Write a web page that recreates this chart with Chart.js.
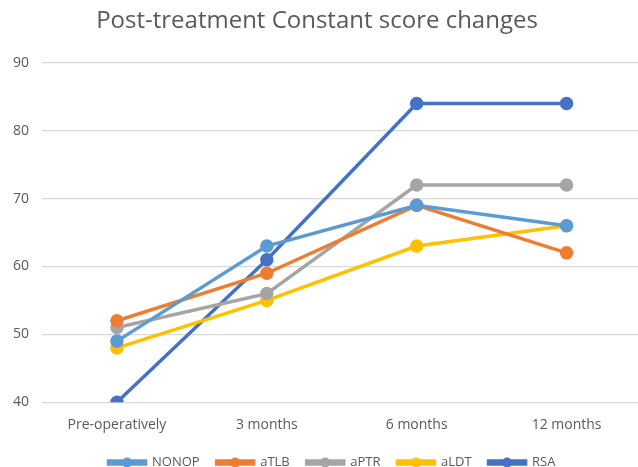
<!DOCTYPE html>
<html>
<head>
<meta charset="utf-8">
<script src="https://cdn.jsdelivr.net/npm/chart.js@4"></script>
<style>
  html, body { margin: 0; padding: 0; background: #fff; overflow: hidden; }
  #wrap { width: 650px; height: 467px; }
</style>
</head>
<body>
<div id="wrap"><canvas id="scoreChart"></canvas></div>
<script>
// categories and series
const timepoints = ['Pre-operatively', '3 months', '6 months', '12 months'];
const nonop = [49, 63, 69, 66];
const atlb = [52, 59, 69, 62];
const aptr = [51, 56, 72, 72];
const aldt = [48, 55, 63, 66];
const rsa = [40, 61, 84, 84];

const FONT = '"Open Sans", "Liberation Sans", sans-serif';
const TEXT = '#595959';

function series(label, data, color) {
  return {
    label: label,
    data: data,
    borderColor: color,
    backgroundColor: color,
    borderWidth: 3.5,
    pointRadius: 5,
    pointHoverRadius: 5,
    pointBackgroundColor: color,
    pointBorderColor: color,
    tension: 0
  };
}

// canvas is a bit wider than the window so the plot runs to the edge;
// nudge title and legend back to where they sit in the original
const recentre = {
  id: 'recentre',
  afterLayout(chart) {
    if (chart.titleBlock) {
      chart.titleBlock.left -= 8;
      chart.titleBlock.right -= 8;
    }
    if (chart.legend) {
      chart.legend.left += 7;
      chart.legend.right += 7;
    }
  }
};

// draw a dot on the middle of each legend line (Excel-style line+marker legend)
const legendDots = {
  id: 'legendDots',
  afterDraw(chart) {
    const legend = chart.legend;
    if (!legend || !legend.legendHitBoxes) return;
    const ctx = chart.ctx;
    legend.legendHitBoxes.forEach((box, i) => {
      const ds = chart.data.datasets[i];
      const bw = legend.options.labels.boxWidth;
      ctx.save();
      ctx.fillStyle = ds.borderColor;
      ctx.beginPath();
      ctx.arc(box.left + bw / 2, box.top + box.height / 2, 5, 0, Math.PI * 2);
      ctx.fill();
      ctx.restore();
    });
  }
};

new Chart(document.getElementById('scoreChart'), {
  type: 'line',
  data: {
    labels: timepoints,
    datasets: [
      series('NONOP', nonop, '#5B9BD5'),
      series('aTLB', atlb, '#ED7D31'),
      series('aPTR', aptr, '#A5A5A5'),
      series('aLDT', aldt, '#FFC000'),
      series('RSA', rsa, '#4472C4')
    ]
  },
  options: {
    responsive: true,
    maintainAspectRatio: false,
    animation: false,
    layout: { padding: { left: 0, right: 0, top: 6, bottom: -12 } },
    plugins: {
      title: {
        display: true,
        text: 'Post-treatment Constant score changes',
        color: TEXT,
        font: { family: FONT, size: 24, weight: 'normal' },
        padding: { top: 1, bottom: 27 }
      },
      legend: {
        position: 'bottom',
        labels: {
          color: TEXT,
          font: { family: FONT, size: 13 },
          boxWidth: 37,
          boxHeight: 3,
          padding: 17
        }
      },
      tooltip: { enabled: false }
    },
    scales: {
      x: {
        offset: true,
        grid: { display: false },
        border: { display: false },
        ticks: { color: TEXT, font: { family: FONT, size: 14 }, padding: 6 }
      },
      y: {
        min: 40,
        max: 90,
        ticks: { stepSize: 10, color: TEXT, font: { family: FONT, size: 14 }, padding: 13 },
        grid: { color: '#D9D9D9', lineWidth: 1.2, drawTicks: false },
        border: { display: false }
      }
    }
  },
  plugins: [recentre, legendDots]
});
</script>
</body>
</html>
